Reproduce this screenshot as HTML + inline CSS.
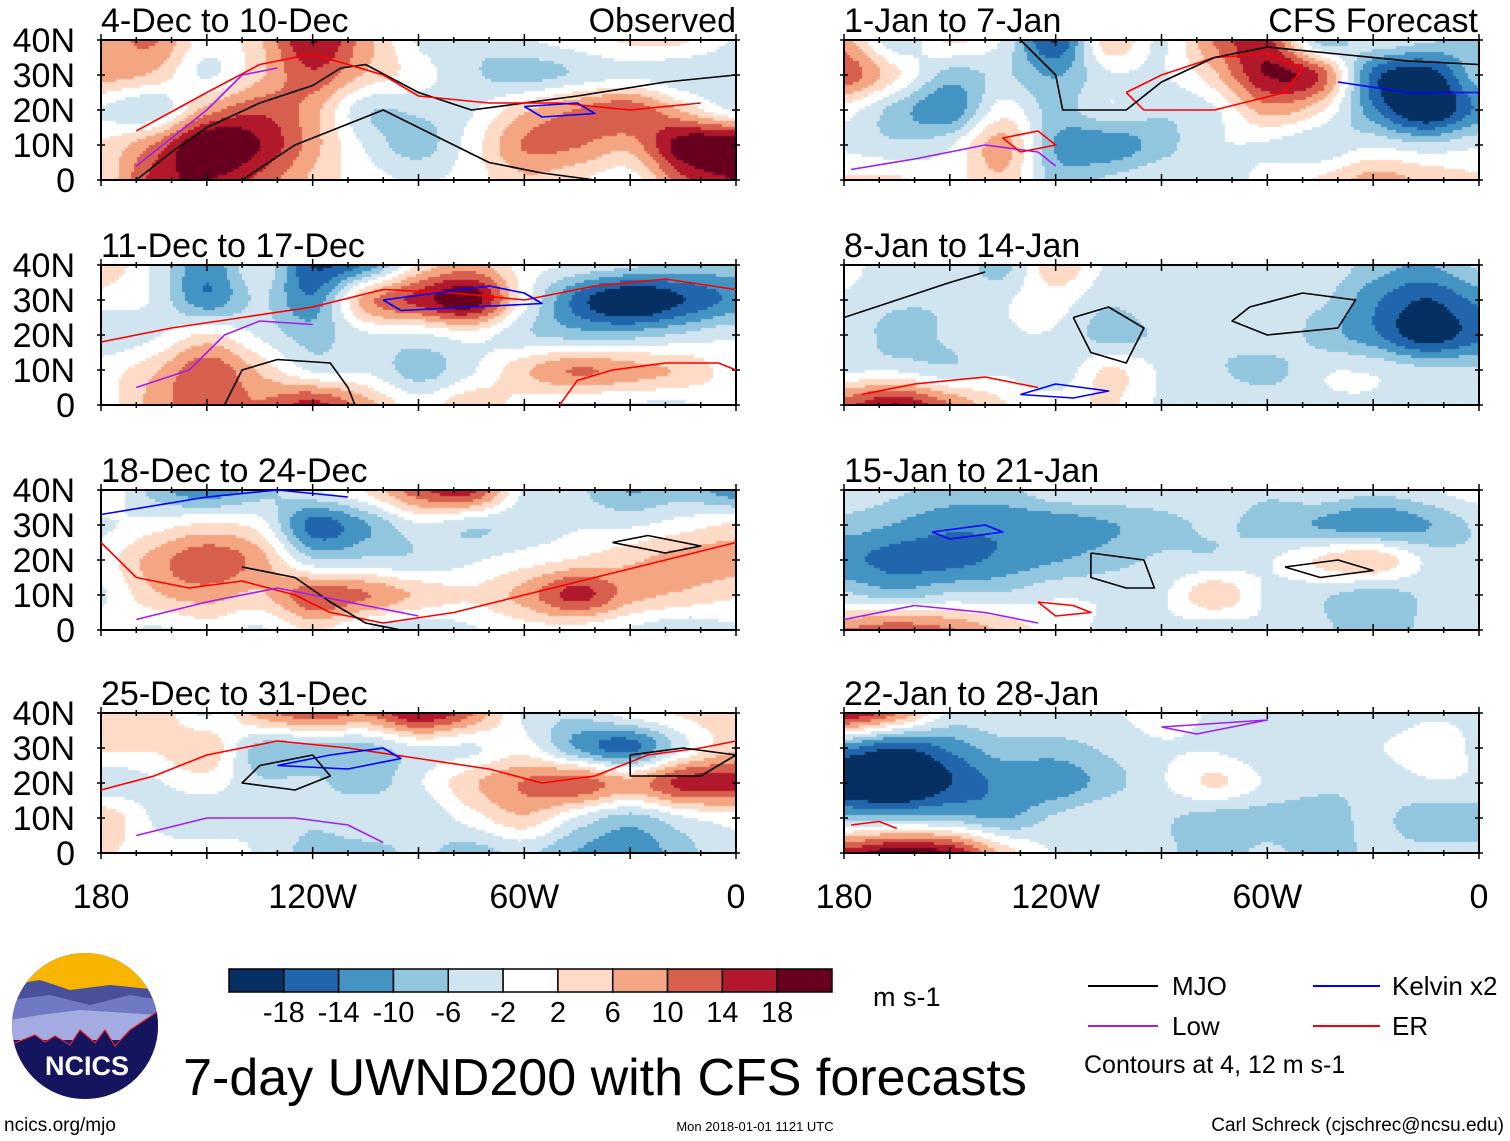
<!DOCTYPE html>
<html><head><meta charset="utf-8">
<style>
body{margin:0;background:#fff;width:1510px;height:1141px;overflow:hidden;position:relative;font-family:"Liberation Sans",sans-serif}
canvas{position:absolute}
svg{position:absolute;left:0;top:0}
</style></head>
<body>
<canvas id="c0" width="635" height="140" style="left:101px;top:40px"></canvas>
<canvas id="c1" width="635" height="140" style="left:101px;top:265px"></canvas>
<canvas id="c2" width="635" height="140" style="left:101px;top:490px"></canvas>
<canvas id="c3" width="635" height="140" style="left:101px;top:713px"></canvas>
<canvas id="c4" width="635" height="140" style="left:844px;top:40px"></canvas>
<canvas id="c5" width="635" height="140" style="left:844px;top:265px"></canvas>
<canvas id="c6" width="635" height="140" style="left:844px;top:490px"></canvas>
<canvas id="c7" width="635" height="140" style="left:844px;top:713px"></canvas>
<svg id="s" width="1510" height="1141" font-family="Liberation Sans, sans-serif">
  <g>
    <clipPath id="lc"><circle cx="85" cy="1026" r="73"/></clipPath>
    <g clip-path="url(#lc)">
      <rect x="10" y="950" width="150" height="150" fill="#1a1a6e"/>
      <rect x="10" y="950" width="150" height="45" fill="#f7b500"/>
      <path d="M10 985 L40 980 L70 990 L110 985 L160 990 L160 1010 L10 1010Z" fill="#4a4f9c"/>
      <path d="M10 1000 L50 995 L90 1005 L130 995 L160 1000 L160 1040 L10 1040Z" fill="#6f79c4"/>
      <path d="M10 1020 L40 1015 L80 1010 L160 1015 L160 1025 L120 1040 L10 1040Z" fill="#a3abe0"/>
      <path d="M10 1045 L35 1035 L45 1042 L55 1036 L70 1045 L80 1030 L95 1043 L105 1030 L115 1046 L130 1030 L160 1010 L160 1100 L10 1100Z" fill="#15155f" stroke="#e02020" stroke-width="1.2"/>
    </g>
    <text x="87" y="1075" font-size="27" font-weight="bold" fill="#fff" text-anchor="middle">NCICS</text>
  </g>
  <text x="4" y="1131" font-size="19">ncics.org/mjo</text>
  <text x="605" y="1095" font-size="52" text-anchor="middle">7-day UWND200 with CFS forecasts</text>
  <text x="755" y="1131" font-size="13" text-anchor="middle">Mon 2018-01-01 1121 UTC</text>
  <text x="1504" y="1131" font-size="19" text-anchor="end">Carl Schreck (cjschrec@ncsu.edu)</text>
  <text x="873" y="1006" font-size="27">m s-1</text>
  <text x="736" y="32" font-size="34" text-anchor="end">Observed</text>
  <text x="1478" y="32" font-size="34" text-anchor="end">CFS Forecast</text>
  <g font-size="26">
    <line x1="1088" y1="986" x2="1158" y2="986" stroke="#000" stroke-width="2"/><text x="1172" y="995">MJO</text>
    <line x1="1088" y1="1026" x2="1158" y2="1026" stroke="#a020f0" stroke-width="2"/><text x="1172" y="1035">Low</text>
    <line x1="1313" y1="986" x2="1380" y2="986" stroke="#0000ff" stroke-width="2"/><text x="1392" y="995">Kelvin x2</text>
    <line x1="1313" y1="1026" x2="1380" y2="1026" stroke="#ff0000" stroke-width="2"/><text x="1392" y="1035">ER</text>
    <text x="1084" y="1073" font-size="25">Contours at 4, 12 m s-1</text>
  </g>
  <g id="cbar"></g>
  <g id="panels"></g>
</svg>
<script>
const levels=[-18,-14,-10,-6,-2,2,6,10,14,18];
const colors=['#053061','#2166ac','#4393c3','#92c5de','#d1e5f0','#ffffff','#fddbc7','#f4a582','#d6604d','#b2182b','#67001f'];
const lonCols=[180,165,150,135,120,105,90,75,60,45,30,15,0];
const latRows=[40,30,20,10,0];
const panelTitles=['4-Dec to 10-Dec','11-Dec to 17-Dec','18-Dec to 24-Dec','25-Dec to 31-Dec','1-Jan to 7-Jan','8-Jan to 14-Jan','15-Jan to 21-Jan','22-Jan to 28-Jan'];
const p0=[[6,8,0,4,14,6,-2,-4,-2,0,2,2,-2],[6,4,-2,4,10,4,0,-4,-6,-4,-2,-4,-4],[-2,-4,6,10,6,-4,-4,-2,4,8,10,4,-2],[2,8,18,14,6,-2,-6,0,8,8,6,16,18],[2,12,14,10,4,0,-2,0,4,2,0,10,14]];
const p1=[[4,-2,-10,-2,-14,-10,2,6,0,-2,-4,-6,-6],[0,-2,-10,-4,-10,6,12,16,0,-12,-18,-14,-10],[-4,-2,2,-2,-6,-2,-2,0,-4,-6,-6,-4,-2],[0,4,10,4,-2,-2,-6,-2,4,8,6,4,0],[0,6,10,8,12,6,0,4,0,-2,-2,-2,0]];
const p2=[[2,-6,-10,-6,-2,2,10,12,-2,-4,-8,-6,-10],[-2,0,2,0,-12,-8,-2,-4,-4,-2,-2,0,2],[0,6,10,6,-4,-4,-4,-2,0,2,4,6,6],[-2,4,6,4,10,8,4,2,6,12,6,4,2],[0,-2,0,-2,2,-2,-4,-2,0,0,-2,-4,-2]];
const p3=[[2,4,-2,6,10,8,14,8,-2,-4,0,2,4],[2,2,4,-6,-6,-6,-2,-2,0,-8,-12,-2,4],[-4,-2,0,-4,-4,-6,-2,4,8,10,6,12,12],[4,-2,-4,-2,-4,-2,-4,0,4,-2,-6,-2,0],[2,0,0,-2,-6,-6,-4,-6,-4,-8,-10,-6,-2]];
const p4=[[6,-4,2,-2,-14,4,-2,8,12,-6,-2,-4,-6],[10,2,-6,-4,-8,-2,-2,4,14,10,-12,-16,-6],[0,-6,-10,0,-6,-2,-4,-2,6,2,-10,-18,-10],[-2,-4,-2,6,-8,-10,-6,-2,-2,-4,-2,-4,-2],[2,2,0,4,-6,-4,-2,-4,0,2,6,4,2]];
const p5=[[0,-4,-2,-6,4,-2,-2,-2,-2,-2,-6,-8,-4],[-2,-4,-4,-2,0,-4,-2,-2,-4,-4,-10,-14,-10],[-2,-6,-4,-2,-2,-6,-4,-4,-2,-6,-10,-16,-12],[-2,-2,-4,-2,-4,2,-2,-4,-6,-2,-2,-4,-4],[10,14,8,2,0,2,-2,-2,-2,-2,-2,-4,-2]];
const p6=[[-2,-4,-6,-6,-2,-2,-2,-2,-4,-2,-4,-2,0],[-6,-8,-10,-10,-10,-8,-6,-4,-6,-8,-10,-8,-4],[-10,-12,-12,-10,-8,-6,-4,-4,-2,2,4,-2,-4],[-4,-6,-4,-4,-2,-2,-2,4,-2,-4,-6,-4,-2],[8,10,8,4,0,-2,-2,-4,-2,-4,-6,-4,-2]];
const p7=[[14,8,-2,-2,-2,-2,0,-2,-2,-2,-4,-2,-2],[-10,-14,-10,-6,-6,-4,-2,-2,-4,-4,-2,0,-2],[-18,-20,-14,-10,-10,-6,-2,2,-2,-4,-4,-2,-2],[-6,-6,-6,-8,-4,-2,-4,-6,-6,-6,-4,-6,-6],[12,16,14,4,-2,-4,-4,-6,-4,-6,-4,-4,-4]];
const fields=[p0,p1,p2,p3,p4,p5,p6,p7];
const contours=[
 [0,'#000',[[170,0],[160,8],[150,15],[135,22],[120,27],[112,32],[105,33],[90,25],[75,20],[60,22],[45,24],[20,28],[0,30]]],
 [0,'#000',[[140,0],[125,10],[100,20],[80,10],[70,5],[55,2],[40,0]]],
 [0,'#f00',[[170,14],[150,25],[135,33],[120,36],[100,30],[90,24],[70,22],[50,22],[30,20],[10,22]]],
 [0,'#a020f0',[[170,4],[160,12],[150,20],[140,30],[130,32]]],
 [0,'#00f',[[60,21],[45,22],[40,19],[55,18],[60,21]]],
 [1,'#f00',[[180,18],[160,22],[140,25],[120,28],[100,33],[80,32],[60,30],[40,34],[20,36],[0,33]]],
 [1,'#a020f0',[[170,5],[155,10],[145,20],[135,24],[120,23]]],
 [1,'#000',[[145,0],[140,10],[130,13],[115,12],[110,5],[108,0]]],
 [1,'#00f',[[100,30],[85,32],[70,34],[60,32],[55,29],[75,28],[95,27],[100,30]]],
 [1,'#f00',[[50,0],[45,7],[35,10],[20,12],[5,12],[0,10]]],
 [2,'#f00',[[180,25],[170,15],[155,12],[140,14],[125,10],[115,5],[100,2],[80,5],[60,10],[40,15],[20,20],[0,25]]],
 [2,'#000',[[140,18],[125,15],[115,8],[105,2],[95,0]]],
 [2,'#00f',[[180,33],[150,38],[130,40],[110,38]]],
 [2,'#a020f0',[[170,3],[150,8],[130,12],[110,8],[90,4]]],
 [2,'#000',[[35,25],[20,22],[10,24],[25,27],[35,25]]],
 [3,'#f00',[[180,18],[165,22],[150,28],[130,32],[110,30],[90,27],[70,24],[55,20],[40,22],[25,28],[10,30],[0,32]]],
 [3,'#00f',[[130,25],[115,28],[100,30],[95,27],[110,24],[130,25]]],
 [3,'#000',[[120,28],[135,25],[140,20],[125,18],[115,22],[120,28]]],
 [3,'#a020f0',[[170,5],[150,10],[125,10],[110,8],[100,3]]],
 [3,'#000',[[30,28],[15,30],[0,28],[10,22],[30,22],[30,28]]],
 [4,'#f00',[[100,25],[90,30],[75,35],[60,36],[50,32],[55,25],[75,20],[95,20],[100,25]]],
 [4,'#000',[[130,40],[120,30],[118,20],[100,20],[90,28],[75,35],[60,38],[40,36],[20,34],[0,33]]],
 [4,'#a020f0',[[178,3],[160,6],[140,10],[125,8],[120,4]]],
 [4,'#f00',[[130,8],[135,12],[125,14],[120,10],[130,8]]],
 [4,'#00f',[[40,28],[20,25],[0,25]]],
 [5,'#000',[[180,25],[165,30],[150,35],[140,38]]],
 [5,'#000',[[115,25],[105,28],[95,22],[100,12],[110,15],[115,25]]],
 [5,'#000',[[65,28],[50,32],[35,30],[40,22],[60,20],[70,24],[65,28]]],
 [5,'#f00',[[175,3],[160,6],[140,8],[125,5]]],
 [5,'#00f',[[130,3],[120,6],[105,4],[115,2],[130,3]]],
 [6,'#000',[[110,22],[95,20],[92,12],[100,12],[110,15],[110,22]]],
 [6,'#000',[[55,18],[40,20],[30,17],[45,15],[55,18]]],
 [6,'#a020f0',[[180,3],[160,7],[140,5],[125,2]]],
 [6,'#00f',[[155,28],[140,30],[135,28],[150,26],[155,28]]],
 [6,'#f00',[[125,8],[115,7],[110,5],[120,4],[125,8]]],
 [7,'#a020f0',[[90,36],[75,37],[60,38],[80,34],[90,36]]],
 [7,'#f00',[[178,8],[170,9],[165,7]]]
];
const gain=1.3;
function colorOf(v){let i=0;while(i<levels.length&&v>=levels[i])i++;return colors[i];}
function cr(p0,p1,p2,p3,t){return 0.5*((2*p1)+(-p0+p2)*t+(2*p0-5*p1+4*p2-p3)*t*t+(-p0+3*p1-3*p2+p3)*t*t*t);}
function sample(f,cx,ry){
  const g=(r,c)=>f[Math.max(0,Math.min(4,r))][Math.max(0,Math.min(12,c))];
  const c=Math.floor(Math.min(cx,11.999)),r=Math.floor(Math.min(ry,3.999)),tx=cx-c,ty=ry-r;
  const rowv=k=>cr(g(k,c-1),g(k,c),g(k,c+1),g(k,c+2),tx);
  return cr(rowv(r-1),rowv(r),rowv(r+1),rowv(r+2),ty);
}
const W=635,H=140,step=3;
fields.forEach((f,k)=>{
  const ctx=document.getElementById('c'+k).getContext('2d');
  for(let y=0;y<H;y+=step)for(let x=0;x<W;x+=step){
    ctx.fillStyle=colorOf(gain*sample(f,(x+1.5)/W*12,(y+1.5)/H*4));
    ctx.fillRect(x,y,step,step);
  }
});
const NS='http://www.w3.org/2000/svg';
function el(t,a,p){const e=document.createElementNS(NS,t);for(const k in a)e.setAttribute(k,a[k]);p.appendChild(e);return e;}
const panels=document.getElementById('panels');
const X0=[101,101,101,101,844,844,844,844],Y0=[40,265,490,713,40,265,490,713];
const xs=(k,lonW)=>X0[k]+(180-lonW)/180*W, ys=(k,lat)=>Y0[k]+(40-lat)/40*H;
for(let k=0;k<8;k++){
  const g=el('g',{},panels);
  
  
  const t=el('text',{x:X0[k],y:Y0[k]-8,'font-size':34},g);t.textContent=panelTitles[k];
  
  
  el('rect',{x:X0[k],y:Y0[k],width:W,height:H,fill:'none',stroke:'#000','stroke-width':2},g);
  for(let lon=0;lon<=180;lon+=10){const x=xs(k,lon),len=lon%30==0?6:3;
    el('line',{x1:x,y1:Y0[k]-len,x2:x,y2:Y0[k]+len,stroke:'#000','stroke-width':1.5},g);
    el('line',{x1:x,y1:Y0[k]+H-len,x2:x,y2:Y0[k]+H+len,stroke:'#000','stroke-width':1.5},g);}
  for(let lat=0;lat<=40;lat+=10){const y=ys(k,lat);
    el('line',{x1:X0[k]-4,y1:y,x2:X0[k]+4,y2:y,stroke:'#000','stroke-width':1.5},g);
    el('line',{x1:X0[k]+W-4,y1:y,x2:X0[k]+W+4,y2:y,stroke:'#000','stroke-width':1.5},g);
    if(k<4){const yl=el('text',{x:75,y:y+12,'font-size':34,'text-anchor':'end'},g);yl.textContent=lat==0?'0':lat+'N';
      
      }
  }
}
contours.forEach(c=>{
  const pts=c[2].map(p=>xs(c[0],p[0]).toFixed(1)+','+ys(c[0],p[1]).toFixed(1)).join(' ');
  const pl=el('polyline',{points:pts,fill:'none',stroke:c[1],'stroke-width':1.6,'stroke-linejoin':'round'},panels);
  
  
});
const xLabels=['180','120W','60W','0'],xLabelLons=[180,120,60,0];
[0,4].forEach(k=>xLabelLons.forEach((lon,i)=>{
  const t=el('text',{x:xs(k,lon),y:908,'font-size':34,'text-anchor':'middle'},panels);t.textContent=xLabels[i];
  
  
}));
const cb=document.getElementById('cbar');const bw=603/11;
colors.forEach((c,i)=>{const r=el('rect',{x:229+i*bw,y:969,width:bw,height:23,fill:c,stroke:'#000','stroke-width':1.5},cb);
  
  });
levels.forEach((v,i)=>{const t=el('text',{x:229+(i+1)*bw,y:1022,'font-size':29,'text-anchor':'middle'},cb);t.textContent=v;
  
  });
</script>
</body></html>
